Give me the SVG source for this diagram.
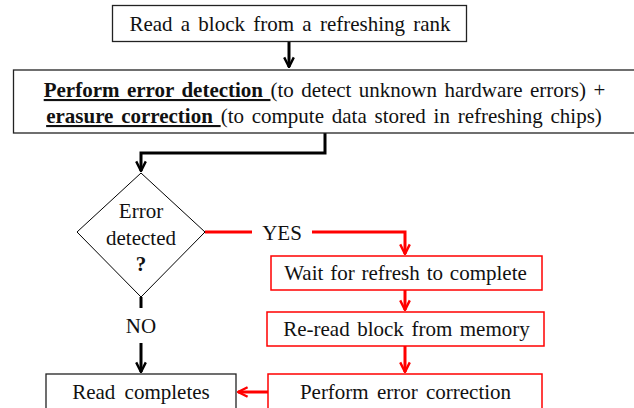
<svg xmlns="http://www.w3.org/2000/svg" width="634" height="408" viewBox="0 0 634 408" font-family="'Liberation Serif','Times New Roman',serif">
<defs>
<style>
text{font-family:"Liberation Serif","Times New Roman",serif;font-size:21px;fill:#111;text-anchor:middle}
.b{font-weight:bold;text-decoration:underline}
.box{fill:#fff;stroke:#222;stroke-width:1.3}
.rbox{fill:#fff;stroke:#f00;stroke-width:1.5}
.k{fill:none;stroke:#000;stroke-width:3}
.r{fill:none;stroke:#f00;stroke-width:3}
</style>
<marker id="ak" viewBox="0 0 10 10" refX="9" refY="5" markerWidth="4" markerHeight="4" orient="auto" markerUnits="strokeWidth"><path d="M1,1 L9,5 L1,9" fill="none" stroke="#000" stroke-width="2"/></marker>
<marker id="ar" viewBox="0 0 10 10" refX="9" refY="5" markerWidth="4" markerHeight="4" orient="auto" markerUnits="strokeWidth"><path d="M1,1 L9,5 L1,9" fill="none" stroke="#f00" stroke-width="2"/></marker>
</defs>
<g id="connectors">
<path class="k" d="M289,42 V67" marker-end="url(#ak)"/>
<path class="k" d="M325,133 V153 H141 V171" marker-end="url(#ak)"/>
<path class="k" d="M141,297 V308"/>
<path class="k" d="M141,343 V372" marker-end="url(#ak)"/>
<path class="r" d="M205,232 H252"/>
<path class="r" d="M312,232 H405 V254" marker-end="url(#ar)"/>
<path class="r" d="M405,290 V310" marker-end="url(#ar)"/>
<path class="r" d="M405,346 V372" marker-end="url(#ar)"/>
<path class="r" d="M268,392 H238" marker-end="url(#ar)"/>
<text x="282" y="240">YES</text>
<text x="141" y="333">NO</text>
</g>
<g id="read-block">
<rect class="box" x="112.5" y="5.5" width="354" height="36"/>
<text x="290" y="31" word-spacing="3">Read a block from a refreshing rank</text>
</g>
<g id="detect">
<rect class="box" x="13.5" y="70" width="625" height="63"/>
<text x="324.5" y="97" word-spacing="2.2"><tspan class="b">Perform error detection </tspan>(to detect unknown hardware errors) +</text>
<text x="324" y="123" word-spacing="2.5"><tspan class="b">erasure correction </tspan>(to compute data stored in refreshing chips)</text>
</g>
<g id="decision">
<path d="M141,173 L205,232 L141,297 L77,232 Z" fill="#fff" stroke="#000" stroke-width="1"/>
<text x="141" y="218">Error</text>
<text x="141" y="245">detected</text>
<text x="141" y="271" font-weight="bold">?</text>
</g>
<g id="wait">
<rect class="rbox" x="271" y="256" width="271" height="34"/>
<text x="405.5" y="280" word-spacing="1.6">Wait for refresh to complete</text>
</g>
<g id="reread">
<rect class="rbox" x="267" y="312" width="277" height="34"/>
<text x="406.5" y="336" word-spacing="2.3">Re-read block from memory</text>
</g>
<g id="correct">
<rect class="rbox" x="268" y="374" width="274" height="40"/>
<text x="405.5" y="399" word-spacing="3">Perform error correction</text>
</g>
<g id="complete">
<rect class="box" x="46" y="374" width="190" height="40"/>
<text x="141" y="399" word-spacing="4">Read completes</text>
</g>
</svg>
